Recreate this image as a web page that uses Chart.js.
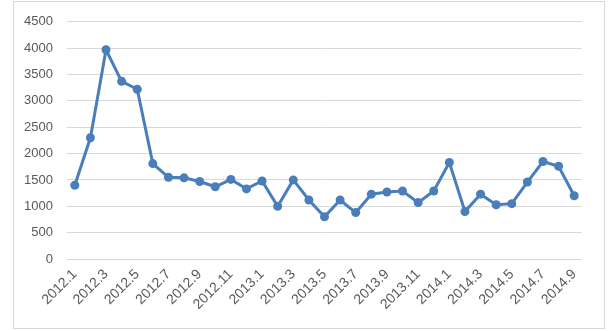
<!DOCTYPE html>
<html>
<head>
<meta charset="utf-8">
<script src="https://cdn.jsdelivr.net/npm/chart.js@4/dist/chart.umd.min.js"></script>
<style>
  html, body { margin: 0; padding: 0; background: #ffffff; }
  #frame { position: absolute; left: 13px; top: 1px; width: 590px; height: 326px; border: 1px solid #d9d9d9; }
  #wrap { position: absolute; left: 0; top: 0; width: 616px; height: 331px; }
</style>
</head>
<body>
<div id="frame"></div>
<div id="wrap"><canvas id="c" width="616" height="331"></canvas></div>
<script>
const categories = [
  "2012.1","2012.2","2012.3","2012.4","2012.5","2012.6","2012.7","2012.8","2012.9","2012.10","2012.11","2012.12",
  "2013.1","2013.2","2013.3","2013.4","2013.5","2013.6","2013.7","2013.8","2013.9","2013.10","2013.11","2013.12",
  "2014.1","2014.2","2014.3","2014.4","2014.5","2014.6","2014.7","2014.8","2014.9"
];
const values = [
  1400, 2300, 3970, 3370, 3220, 1810, 1550, 1540, 1470, 1370, 1510, 1330,
  1480, 1000, 1500, 1120, 800, 1120, 880, 1230, 1270, 1290, 1070, 1290,
  1830, 900, 1230, 1030, 1050, 1460, 1850, 1760, 1200
];
const yTicks = [0, 500, 1000, 1500, 2000, 2500, 3000, 3500, 4000, 4500];

const blue = '#4a7ebb';
new Chart(document.getElementById('c'), {
  type: 'line',
  data: {
    labels: categories,
    datasets: [{
      data: values,
      borderColor: blue,
      backgroundColor: blue,
      borderWidth: 3,
      pointRadius: 4.5,
      pointHoverRadius: 4.5,
      pointBackgroundColor: blue,
      pointBorderColor: blue,
      pointBorderWidth: 0,
      tension: 0,
      fill: false
    }]
  },
  options: {
    responsive: false,
    animation: false,
    devicePixelRatio: 1,
    events: [],
    layout: { padding: { left: 0, right: 34, top: 19, bottom: 0 } },
    plugins: { legend: { display: false }, tooltip: { enabled: false } },
    scales: {
      x: {
        type: 'category',
        offset: true,
        grid: { display: false, drawTicks: false },
        border: { display: false },
        ticks: {
          autoSkip: false,
          maxRotation: 45,
          minRotation: 45,
          padding: 7,
          color: '#595959',
          font: { family: 'Liberation Sans', size: 14 },
          callback: function(v, i) { return i % 2 === 0 ? categories[i] : ''; }
        },
        afterFit: function(s) { s.height = 72; }
      },
      y: {
        min: 0,
        max: 4500,
        afterBuildTicks: function(s) { s.ticks = yTicks.map(v => ({ value: v })); },
        grid: { color: '#d9d9d9', lineWidth: 1, drawTicks: false },
        border: { display: false },
        ticks: {
          padding: 14,
          color: '#595959',
          font: { family: 'Liberation Sans', size: 13 },
          callback: function(v) { return String(v); }
        },
        afterFit: function(s) { s.width = 67; }
      }
    }
  }
});
</script>
</body>
</html>
